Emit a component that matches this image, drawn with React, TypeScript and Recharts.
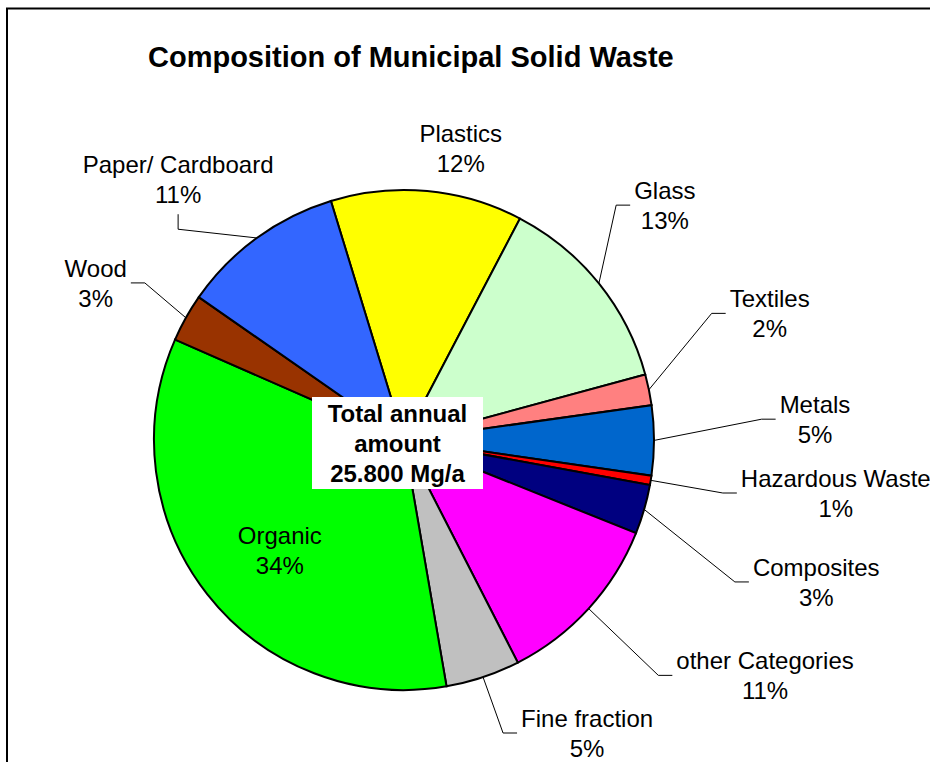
import React from "react";
import { Cell, Pie, PieChart } from "recharts";

const categories = [
  "Plastics",
  "Glass",
  "Textiles",
  "Metals",
  "Hazardous Waste",
  "Composites",
  "other Categories",
  "Fine fraction",
  "Organic",
  "Wood",
  "Paper/ Cardboard",
];
const shares = [12.4, 13.1, 2.0, 4.5, 0.6, 3.2, 11.4, 4.8, 34.3, 3.1, 10.6];
const colors = [
  "#FFFF00",
  "#CCFFCC",
  "#FF8080",
  "#0066CC",
  "#FF0000",
  "#000080",
  "#FF00FF",
  "#C0C0C0",
  "#00FF00",
  "#993300",
  "#3366FF",
];

// where each data label sits: distance from the pie centre and clock angle (degrees from 12 o'clock)
const labelDistance = [297.5, 351, 387, 411.5, 435, 436, 431, 345.5, 166, 346, 345];
const labelClock = [11, 48, 70.9, 87.1, 97, 109, 123.1, 148, 228.4, 297, 319.1];
const labelLeader = [false, true, true, true, true, true, true, true, false, true, true];

const FONT = '"Liberation Sans", Arial, sans-serif';
const LABEL_SIZE = 24;

const data = categories.map((name, i) => ({ name, value: shares[i] }));

let ctx: CanvasRenderingContext2D | null = null;
function textWidth(s: string) {
  if (!ctx) ctx = document.createElement("canvas").getContext("2d");
  if (!ctx) return s.length * LABEL_SIZE * 0.5;
  ctx.font = `${LABEL_SIZE}px "Liberation Sans", Arial, sans-serif`;
  return ctx.measureText(s).width;
}

function renderLabel(props: any) {
  const { cx, cy, midAngle, outerRadius, percent, index } = props;
  const rad = Math.PI / 180;
  const name = categories[index];
  const pct = `${Math.round(percent * 100 + 1e-9)}%`;
  const a = labelClock[index] * rad;
  const lx = cx + labelDistance[index] * Math.sin(a);
  const ly = cy - labelDistance[index] * Math.cos(a);
  const ex = cx + outerRadius * Math.cos(-midAngle * rad);
  const ey = cy + outerRadius * Math.sin(-midAngle * rad);
  const w = Math.max(textWidth(name), textWidth(pct));
  const left = lx - w / 2;
  const right = lx + w / 2;

  let pts: number[][] | null = null;
  if (labelLeader[index]) {
    if (ex < left) pts = [[left - 4, ly], [left - 18, ly], [ex, ey]];
    else if (ex > right) pts = [[right + 4, ly], [right + 18, ly], [ex, ey]];
    else if (ey > ly) pts = [[lx, ly + 35], [lx, ly + 50], [ex, ey]];
    else pts = [[lx, ly - 35], [lx, ly - 50], [ex, ey]];
  }

  return (
    <g>
      {pts && (
        <polyline
          points={pts.map((p) => p.join(",")).join(" ")}
          fill="none"
          stroke="#000"
          strokeWidth={1}
        />
      )}
      <text x={lx} y={ly - 6} textAnchor="middle" fontFamily={FONT} fontSize={LABEL_SIZE} fill="#000">
        {name}
      </text>
      <text x={lx} y={ly + 24} textAnchor="middle" fontFamily={FONT} fontSize={LABEL_SIZE} fill="#000">
        {pct}
      </text>
    </g>
  );
}

export default function App() {
  return (
    <div
      style={{
        position: "absolute",
        left: 0,
        top: 0,
        width: 930,
        height: 762,
        overflow: "hidden",
        background: "#fff",
      }}
    >
      <div style={{ position: "absolute", left: 0, top: 0 }}>
        <PieChart width={930} height={762} margin={{ top: 0, right: 0, bottom: 0, left: 0 }}>
          <Pie
            data={data}
            dataKey="value"
            nameKey="name"
            cx={404}
            cy={440}
            innerRadius={0}
            outerRadius={250}
            startAngle={107}
            endAngle={-253}
            stroke="#000"
            strokeWidth={2}
            label={renderLabel}
            labelLine={false}
            isAnimationActive={false}
          >
            {data.map((d, i) => (
              <Cell key={d.name} fill={colors[i]} />
            ))}
          </Pie>
        </PieChart>
      </div>
      <svg
        width={930}
        height={762}
        style={{ position: "absolute", left: 0, top: 0, pointerEvents: "none" }}
      >
        <rect x={7} y={8.5} width={1000} height={1000} fill="none" stroke="#000" strokeWidth={2} />
        <text x={148} y={66.5} fontFamily={FONT} fontSize={29} fontWeight="bold" fill="#000">
          Composition of Municipal Solid Waste
        </text>
        <rect x={312} y={397} width={171} height={92} fill="#fff" />
        <g fontFamily={FONT} fontSize={24} fontWeight="bold" textAnchor="middle" fill="#000">
          <text x={397.5} y={421.8}>Total annual</text>
          <text x={397.5} y={452.4}>amount</text>
          <text x={397.5} y={482.2}>25.800 Mg/a</text>
        </g>
      </svg>
    </div>
  );
}
